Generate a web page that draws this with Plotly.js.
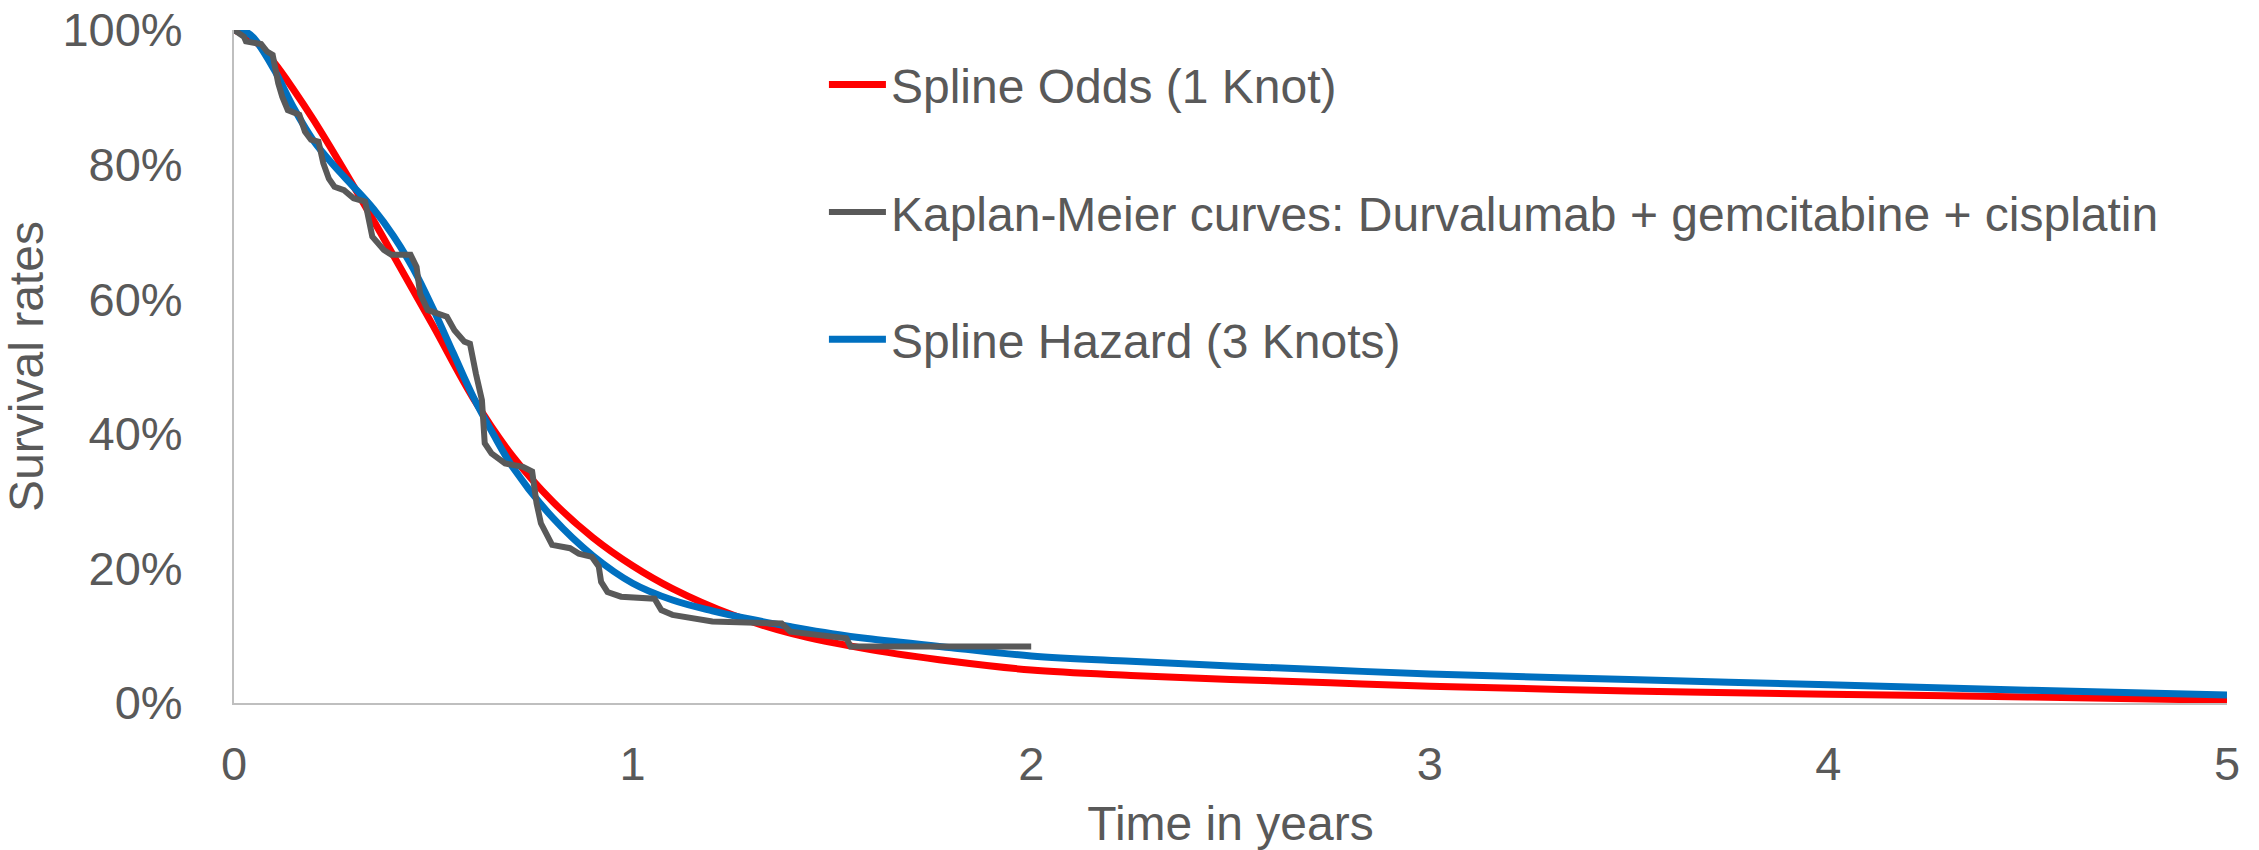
<!DOCTYPE html>
<html>
<head>
<meta charset="utf-8">
<script src="https://cdn.plot.ly/plotly-3.0.1.min.js"></script>
<style>html,body{margin:0;padding:0;background:#fff;}#chart{width:2259px;height:850px;}</style>
</head>
<body>
<div id="chart"></div>
<script>
// Spline Odds (1 Knot)
const oddsTime = [0, 0.05, 0.1, 0.15, 0.2, 0.3, 0.4, 0.5, 0.6, 0.7, 0.8, 0.9, 1.0, 1.1, 1.25, 1.4, 1.6, 1.8, 2.0, 2.25, 2.5, 2.75, 3.0, 3.5, 4.0, 4.5, 5.0];
const oddsSurv = [1.0, 0.985, 0.952, 0.911, 0.866, 0.768, 0.665, 0.560, 0.453, 0.366, 0.299, 0.246, 0.204, 0.170, 0.131, 0.103, 0.079, 0.062, 0.049, 0.041, 0.035, 0.030, 0.025, 0.018, 0.013, 0.009, 0.004];

// Spline Hazard (3 Knots)
const hazTime = [0, 0.03, 0.05, 0.1, 0.15, 0.2, 0.25, 0.3, 0.35, 0.4, 0.45, 0.5, 0.55, 0.6, 0.65, 0.7, 0.8, 0.9, 1.0, 1.1, 1.2, 1.3, 1.4, 1.5, 1.6, 1.8, 2.0, 2.25, 2.5, 2.75, 3.0, 3.5, 4.0, 4.5, 5.0];
const hazSurv = [1.0, 0.997, 0.988, 0.942, 0.884, 0.835, 0.799, 0.767, 0.734, 0.694, 0.645, 0.585, 0.520, 0.455, 0.400, 0.350, 0.275, 0.219, 0.178, 0.153, 0.137, 0.124, 0.113, 0.103, 0.095, 0.082, 0.070, 0.062, 0.055, 0.049, 0.043, 0.035, 0.027, 0.019, 0.012];

// Kaplan-Meier curve: Durvalumab + gemcitabine + cisplatin
const kmTime = [0, 0.025, 0.030, 0.068, 0.083, 0.097, 0.111, 0.121, 0.135, 0.164, 0.178, 0.193, 0.212, 0.224, 0.238, 0.252, 0.276, 0.300, 0.329, 0.338, 0.347, 0.376, 0.395, 0.443, 0.458, 0.467, 0.486, 0.534, 0.553, 0.578, 0.592, 0.607, 0.622, 0.629, 0.646, 0.680, 0.725, 0.748, 0.759, 0.770, 0.798, 0.843, 0.865, 0.898, 0.915, 0.921, 0.937, 0.971, 1.055, 1.072, 1.100, 1.200, 1.312, 1.374, 1.396, 1.536, 1.547, 2.0];
const kmSurv = [1.0, 0.990, 0.983, 0.979, 0.968, 0.963, 0.921, 0.901, 0.881, 0.874, 0.849, 0.837, 0.834, 0.802, 0.779, 0.767, 0.762, 0.750, 0.745, 0.718, 0.693, 0.673, 0.666, 0.666, 0.648, 0.608, 0.584, 0.574, 0.554, 0.537, 0.534, 0.489, 0.450, 0.386, 0.371, 0.356, 0.351, 0.344, 0.297, 0.267, 0.235, 0.230, 0.222, 0.217, 0.203, 0.180, 0.165, 0.158, 0.155, 0.138, 0.131, 0.121, 0.118, 0.118, 0.106, 0.096, 0.084, 0.084];

const xTicks = [0, 1, 2, 3, 4, 5];
const yTicks = [0, 0.2, 0.4, 0.6, 0.8, 1.0];

const names = {
  odds: 'Spline Odds (1 Knot)',
  km: 'Kaplan-Meier curves: Durvalumab + gemcitabine + cisplatin',
  haz: 'Spline Hazard (3 Knots)'
};

const FONT = '"Liberation Sans", Arial, sans-serif';
const GREY = '#595959';

const traces = [
  {x: oddsTime, y: oddsSurv, name: names.odds, mode: 'lines', legendrank: 1, legendgroup: 'a',
   line: {color: '#FF0000', width: 7, shape: 'spline', smoothing: 1}},
  {x: hazTime, y: hazSurv, name: names.haz, mode: 'lines', legendrank: 3, legendgroup: 'c',
   line: {color: '#0070C0', width: 7, shape: 'spline', smoothing: 1}},
  {x: kmTime, y: kmSurv, name: names.km, mode: 'lines', legendrank: 2, legendgroup: 'b',
   line: {color: GREY, width: 6}}
];

const layout = {
  width: 2259, height: 850,
  margin: {l: 234, r: 32, t: 30, b: 147},
  paper_bgcolor: '#fff', plot_bgcolor: '#fff',
  font: {family: FONT, color: GREY, size: 47},
  showlegend: true,
  legend: {
    x: 0.296, y: 0.975, xanchor: 'left', yanchor: 'top',
    bgcolor: 'rgba(0,0,0,0)', font: {family: FONT, size: 48, color: GREY},
    itemwidth: 57, tracegroupgap: 62, traceorder: 'grouped'
  },
  xaxis: {
    range: [0, 5], tickvals: xTicks, ticktext: xTicks.map(String),
    showgrid: false, zeroline: false, showline: true, linecolor: '#bfbfbf', linewidth: 2,
    ticks: '', ticklabelstandoff: 19, automargin: false,
    tickfont: {family: FONT, size: 47, color: GREY},
    title: {text: 'Time in years', font: {family: FONT, size: 48, color: GREY}, standoff: 33}
  },
  yaxis: {
    range: [0, 1], tickvals: yTicks, tickformat: '.0%',
    showgrid: false, zeroline: false, showline: true, linecolor: '#bfbfbf', linewidth: 2,
    ticks: '', ticklabelstandoff: 40, automargin: false,
    tickfont: {family: FONT, size: 47, color: GREY},
    title: {text: 'Survival rates', font: {family: FONT, size: 48, color: GREY}, standoff: 8}
  }
};

Plotly.newPlot('chart', traces, layout, {staticPlot: true, displayModeBar: false});
</script>
</body>
</html>
